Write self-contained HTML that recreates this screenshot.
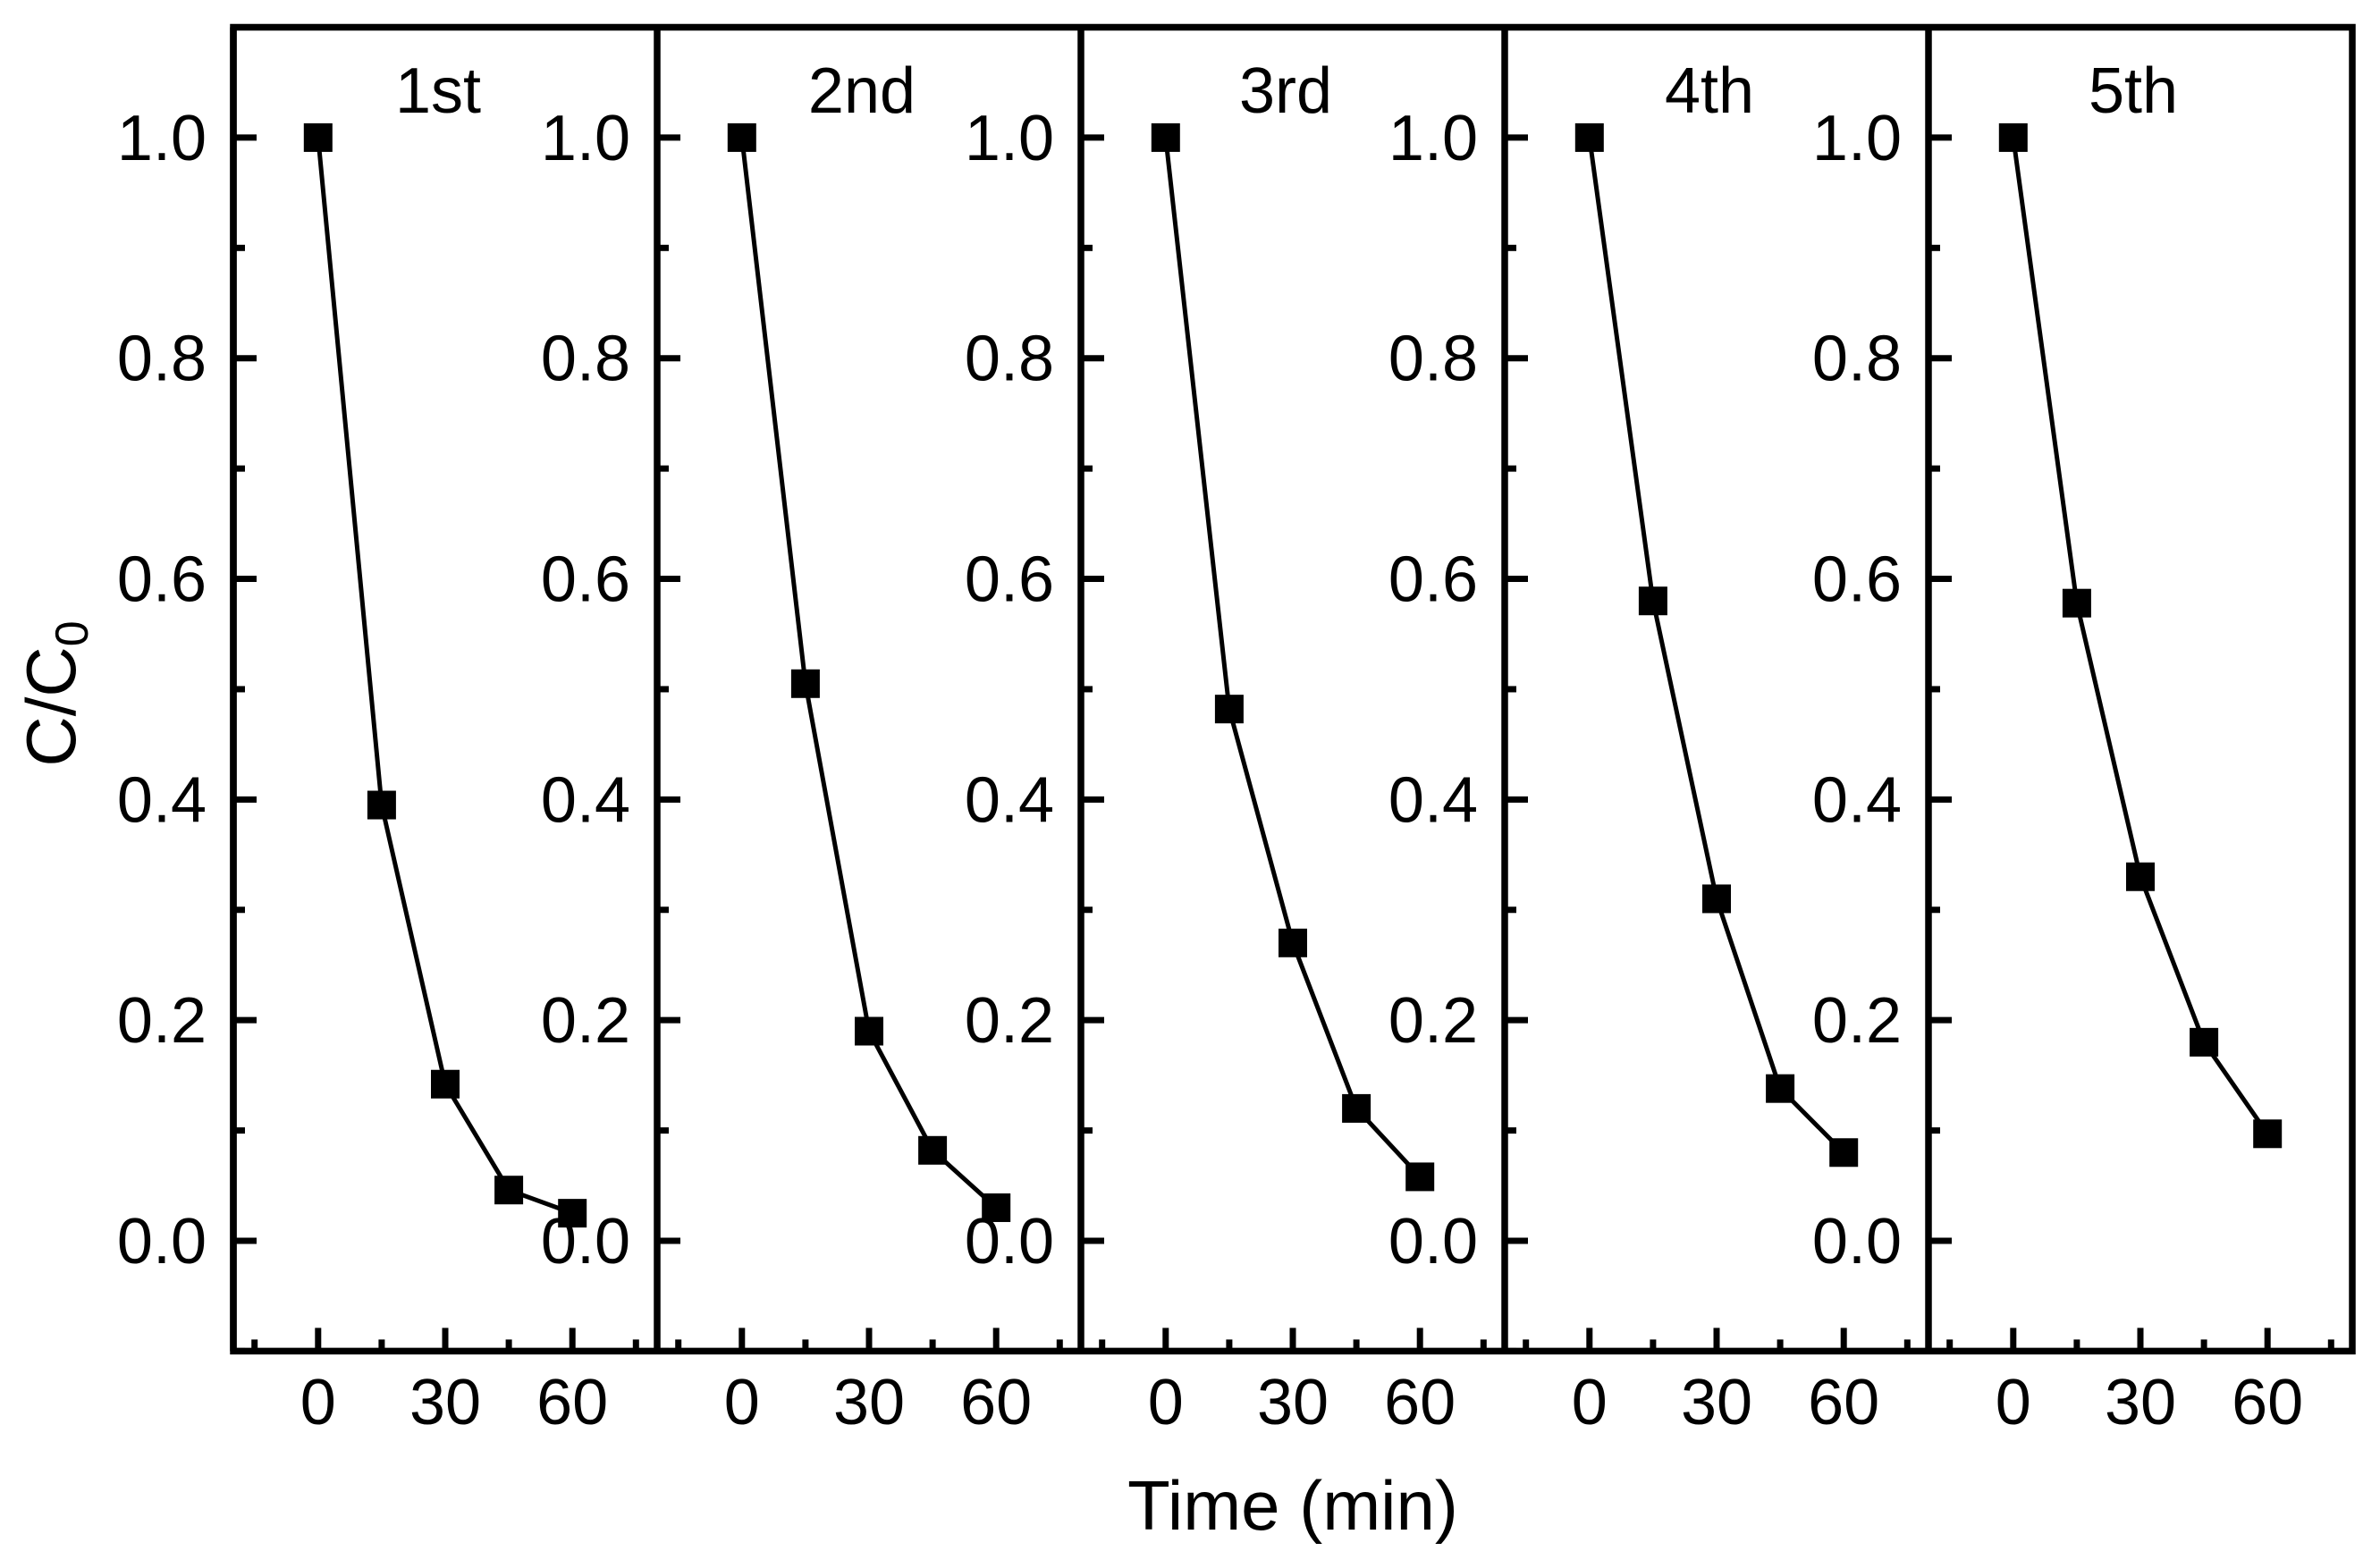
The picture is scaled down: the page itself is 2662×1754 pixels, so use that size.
<!DOCTYPE html>
<html><head><meta charset="utf-8"><style>
html,body{margin:0;padding:0;background:#fff;}
svg{display:block;font-family:"Liberation Sans",Arial,sans-serif;}
</style></head><body>
<svg id="chart" width="2662" height="1754" viewBox="0 0 2662 1754" xmlns="http://www.w3.org/2000/svg"></svg>
<script>
const cycles = ["1st","2nd","3rd","4th","5th"];
const times = [0,15,30,45,60];
const cycle1 = [1.0,0.395,0.142,0.046,0.025];
const cycle2 = [1.0,0.505,0.19,0.082,0.03];
const cycle3 = [1.0,0.482,0.27,0.12,0.058];
const cycle4 = [1.0,0.58,0.31,0.138,0.08];
const cycle5 = [1.0,0.578,0.33,0.18,0.097];
const seriesData = [cycle1,cycle2,cycle3,cycle4,cycle5];
const xTicks = [0,30,60];
const xMinor = [-15,15,45,75];
const yTicks = [0.0,0.2,0.4,0.6,0.8,1.0];
const yMinor = [-0.1,0.1,0.3,0.5,0.7,0.9];

const NS="http://www.w3.org/2000/svg";
const svg=document.getElementById('chart');
const L=261, W=474, TOP=30.5, BOT=1511.4;
const xMin=-20,xMax=80,yMin=-0.1,yMax=1.1;
function xs(p,v){return L+p*W+(v-xMin)/(xMax-xMin)*W;}
function ys(v){return BOT-(v-yMin)/(yMax-yMin)*(BOT-TOP);}
function mk(tag,attrs,parent){const e=document.createElementNS(NS,tag);for(const k in attrs)e.setAttribute(k,attrs[k]);(parent||svg).appendChild(e);return e;}

for(let p=0;p<5;p++){
  const g=mk('g',{});
  
  
  const ax=L+p*W;
  yTicks.forEach(v=>{
    const t=mk('line',{x1:ax,x2:ax+26,y1:ys(v),y2:ys(v),stroke:'#000','stroke-width':7},g);
    
    
    const tx=mk('text',{x:ax-30,y:ys(v)+25,'font-size':72,'text-anchor':'end'},g);
    tx.textContent=v.toFixed(1);
    
    
  });
  yMinor.forEach(v=>{
    const t=mk('line',{x1:ax,x2:ax+13,y1:ys(v),y2:ys(v),stroke:'#000','stroke-width':7},g);
    
    
  });
  xTicks.forEach(v=>{
    const t=mk('line',{x1:xs(p,v),x2:xs(p,v),y1:BOT,y2:BOT-26,stroke:'#000','stroke-width':7},g);
    
    
    const tx=mk('text',{x:xs(p,v),y:1593,'font-size':72,'text-anchor':'middle'},g);
    tx.textContent=String(v);
    
    
  });
  xMinor.forEach(v=>{
    const t=mk('line',{x1:xs(p,v),x2:xs(p,v),y1:BOT,y2:BOT-13,stroke:'#000','stroke-width':7},g);
    
    
  });
  const title=mk('text',{x:ax+229,y:126,'font-size':72,'text-anchor':'middle'},g);
  title.textContent=cycles[p];
  
  
  const vals=seriesData[p];
  const pts=times.map((t,i)=>xs(p,t).toFixed(1)+','+ys(vals[i]).toFixed(1)).join(' ');
  const line=mk('polyline',{points:pts,fill:'none',stroke:'#000','stroke-width':5},g);
  
  
  times.forEach((t,i)=>{
    const r=mk('rect',{x:xs(p,t)-16,y:ys(vals[i])-16,width:32,height:32,fill:'#000'},g);
    
    
  });
  const al=mk('line',{x1:ax,x2:ax,y1:TOP,y2:BOT,stroke:'#000','stroke-width':7.5},g);
  
  
}
const frame=mk('rect',{x:L,y:TOP,width:5*W,height:BOT-TOP,fill:'none',stroke:'#000','stroke-width':7.5});


const xt=mk('text',{x:1446,y:1711,'font-size':78,'text-anchor':'middle'});
xt.textContent='Time (min)';


const yt=mk('text',{x:0,y:0,'font-size':78,'text-anchor':'middle',transform:'translate(84,776) rotate(-90)'});


yt.innerHTML='C/C<tspan font-size="52" dy="14">0</tspan>';
</script>
</body></html>
